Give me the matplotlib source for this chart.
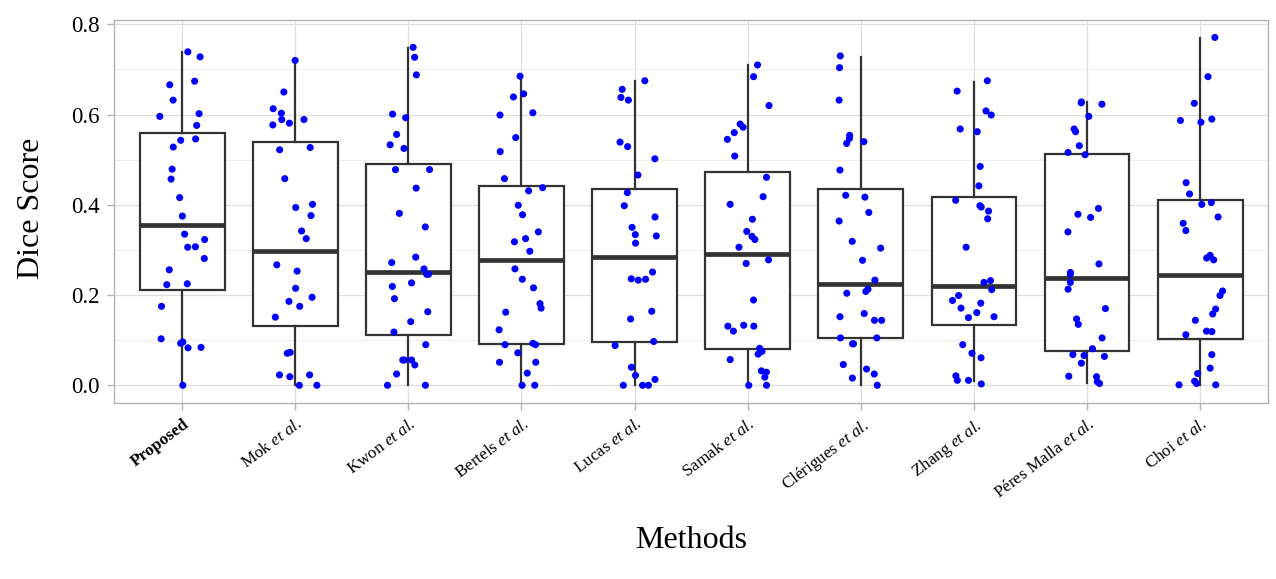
import matplotlib
matplotlib.use('Agg')
import matplotlib.pyplot as plt
import numpy as np
from matplotlib.ticker import MultipleLocator, FormatStrFormatter
from matplotlib.transforms import ScaledTranslation

plt.rcParams['font.family'] = ['Liberation Serif', 'DejaVu Serif']
plt.rcParams['mathtext.fontset'] = 'custom'
plt.rcParams['mathtext.rm'] = 'Liberation Serif'
plt.rcParams['mathtext.it'] = 'Liberation Serif:italic'
plt.rcParams['mathtext.bf'] = 'Liberation Serif:bold'

methods = ['Proposed', r'Mok $\mathit{et\ al.}$', r'Kwon $\mathit{et\ al.}$',
           r'Bertels $\mathit{et\ al.}$', r'Lucas $\mathit{et\ al.}$',
           r'Samak $\mathit{et\ al.}$', r'Clérigues $\mathit{et\ al.}$',
           r'Zhang $\mathit{et\ al.}$', r'Péres Malla $\mathit{et\ al.}$',
           r'Choi $\mathit{et\ al.}$']

# box statistics
q1 = [0.211, 0.131, 0.111, 0.092, 0.096, 0.080, 0.105, 0.134, 0.077, 0.103]
med = [0.355, 0.297, 0.252, 0.277, 0.284, 0.292, 0.224, 0.220, 0.238, 0.244]
q3 = [0.560, 0.540, 0.491, 0.442, 0.436, 0.472, 0.435, 0.418, 0.512, 0.411]
whislo = [0.0, 0.0, 0.0, 0.0, 0.0, 0.0, 0.0, 0.010, 0.005, 0.0]
whishi = [0.738, 0.717, 0.747, 0.684, 0.675, 0.710, 0.728, 0.673, 0.627, 0.769]

# individual dice scores
proposed = [0.739, 0.728, 0.674, 0.666, 0.632, 0.602, 0.596, 0.576, 0.546, 0.543,
            0.528, 0.479, 0.457, 0.416, 0.375, 0.335, 0.323, 0.307, 0.306, 0.281,
            0.256, 0.223, 0.225, 0.175, 0.103, 0.096, 0.093, 0.084, 0.083, 0.0]
mok = [0.720, 0.650, 0.613, 0.603, 0.589, 0.589, 0.581, 0.577, 0.527, 0.522,
       0.458, 0.401, 0.394, 0.376, 0.342, 0.325, 0.267, 0.253, 0.215, 0.195,
       0.186, 0.175, 0.151, 0.073, 0.071, 0.023, 0.023, 0.019, 0.0, 0.0]
kwon = [0.749, 0.727, 0.688, 0.601, 0.593, 0.556, 0.525, 0.533, 0.478, 0.478,
        0.437, 0.381, 0.351, 0.284, 0.272, 0.258, 0.246, 0.246, 0.227, 0.219,
        0.192, 0.163, 0.141, 0.118, 0.090, 0.045, 0.056, 0.056, 0.056, 0.025,
        0.0, 0.0]
bertels = [0.685, 0.646, 0.639, 0.604, 0.599, 0.549, 0.518, 0.458, 0.438, 0.431,
           0.399, 0.378, 0.340, 0.318, 0.325, 0.297, 0.258, 0.235, 0.216, 0.181,
           0.162, 0.171, 0.123, 0.093, 0.090, 0.090, 0.072, 0.051, 0.051, 0.027,
           0.0, 0.0]
lucas = [0.675, 0.656, 0.638, 0.632, 0.539, 0.529, 0.502, 0.466, 0.427, 0.398,
         0.373, 0.350, 0.331, 0.334, 0.315, 0.251, 0.235, 0.233, 0.236, 0.164,
         0.147, 0.097, 0.088, 0.040, 0.022, 0.013, 0.0, 0.0, 0.0]
samak = [0.710, 0.684, 0.620, 0.579, 0.572, 0.560, 0.545, 0.508, 0.461, 0.418,
         0.401, 0.368, 0.341, 0.330, 0.323, 0.306, 0.278, 0.270, 0.189, 0.131,
         0.120, 0.131, 0.133, 0.082, 0.075, 0.069, 0.057, 0.029, 0.032, 0.018,
         0.0, 0.0]
clerigues = [0.730, 0.704, 0.632, 0.554, 0.547, 0.536, 0.540, 0.477, 0.417, 0.421,
             0.383, 0.364, 0.319, 0.304, 0.277, 0.233, 0.213, 0.208, 0.204, 0.159,
             0.152, 0.144, 0.144, 0.105, 0.105, 0.092, 0.092, 0.046, 0.036, 0.025,
             0.016, 0.0]
zhang = [0.675, 0.652, 0.608, 0.599, 0.568, 0.562, 0.485, 0.442, 0.410, 0.395,
         0.398, 0.386, 0.369, 0.306, 0.228, 0.232, 0.212, 0.199, 0.188, 0.182,
         0.171, 0.161, 0.152, 0.150, 0.090, 0.071, 0.061, 0.021, 0.011, 0.011,
         0.003]
peres_malla = [0.623, 0.628, 0.626, 0.596, 0.568, 0.562, 0.531, 0.511, 0.516, 0.392,
               0.372, 0.379, 0.340, 0.269, 0.246, 0.250, 0.228, 0.213, 0.170, 0.147,
               0.135, 0.105, 0.081, 0.068, 0.066, 0.064, 0.049, 0.019, 0.020, 0.008,
               0.004]
choi = [0.771, 0.684, 0.625, 0.587, 0.583, 0.590, 0.449, 0.424, 0.401, 0.405,
        0.373, 0.359, 0.343, 0.278, 0.282, 0.288, 0.209, 0.199, 0.169, 0.158,
        0.144, 0.120, 0.112, 0.119, 0.068, 0.038, 0.026, 0.009, 0.004, 0.001,
        0.001]

scores = [proposed, mok, kwon, bertels, lucas, samak, clerigues, zhang,
          peres_malla, choi]

fig = plt.figure(figsize=(12.76, 5.79), dpi=100)
ax = fig.add_axes([114.3 / 1276, 1 - 402.7 / 579, (1268 - 114.3) / 1276, (402.7 - 20) / 579])

positions = np.arange(1, len(methods) + 1)
stats = []
for i in range(len(methods)):
    stats.append(dict(q1=q1[i], med=med[i], q3=q3[i], whislo=whislo[i],
                      whishi=whishi[i], fliers=[]))

box_col = '#333333'
ax.bxp(stats, positions=positions, widths=0.75, showcaps=False,
       showfliers=False, patch_artist=True,
       boxprops=dict(facecolor='white', edgecolor=box_col, linewidth=1.6),
       whiskerprops=dict(color=box_col, linewidth=1.6),
       medianprops=dict(color=box_col, linewidth=3.4, solid_capstyle='butt'),
       zorder=2)

rng = np.random.default_rng(7)
for pos, vals in zip(positions, scores):
    xs = pos + rng.uniform(-0.2, 0.2, len(vals))
    ax.scatter(xs, vals, s=26, color='#0000FF', edgecolors='none', zorder=3)

ax.set_xlim(0.4, 10.6)
ax.set_ylim(-0.0386, 0.8096)
ax.yaxis.set_major_locator(MultipleLocator(0.2))
ax.yaxis.set_minor_locator(MultipleLocator(0.1))
ax.yaxis.set_major_formatter(FormatStrFormatter('%.1f'))

ax.set_xticks(positions)
ax.set_xticklabels([])
# rotated category labels placed just below each tick
base = ax.get_xaxis_transform() + ScaledTranslation(0.5 / 72, -9.5 / 72, fig.dpi_scale_trans)
for i, (pos, name) in enumerate(zip(positions, methods)):
    ax.text(pos, 0, name, transform=base, rotation=37, rotation_mode='anchor',
            ha='right', va='top', fontsize=12.3, color='black',
            fontweight='bold' if i == 0 else 'normal', clip_on=False)

ax.grid(which='major', color='#DEDEDE', linewidth=0.9, zorder=0)
ax.grid(which='minor', axis='y', color='#EBEBEB', linewidth=0.6, zorder=0)
ax.set_axisbelow(True)
for sp in ax.spines.values():
    sp.set_color('#B3B3B3')
    sp.set_linewidth(1.0)
ax.tick_params(axis='both', which='major', color='#B3B3B3', length=4.75, width=1,
               labelcolor='black')
ax.tick_params(axis='y', labelsize=16.5, pad=5.5)
ax.tick_params(which='minor', length=0)

ax.set_xlabel('Methods', fontsize=23)
ax.set_ylabel('Dice Score', fontsize=23)
ax.xaxis.set_label_coords(0.5, -0.361)
ax.xaxis.label.set_va('center')
ax.yaxis.set_label_coords(-0.0718, 0.509)
ax.yaxis.label.set_va('center')

fig.savefig('out.png', dpi=100)
